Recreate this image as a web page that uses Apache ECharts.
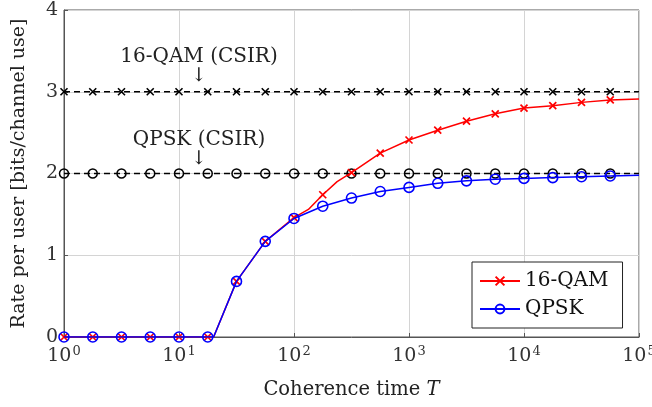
<!DOCTYPE html>
<html>
<head>
<meta charset="utf-8">
<script src="https://cdn.jsdelivr.net/npm/echarts@6/dist/echarts.min.js"></script>
<style>
  html, body { margin: 0; padding: 0; background: #fff; }
  #chart { width: 652px; height: 407px; }
</style>
</head>
<body>
<div id="chart"></div>
<script>
// coherence time T (marker positions are every quarter decade)
var tMarks = [1, 1.778, 3.162, 5.623, 10, 17.78, 31.62, 56.23, 100, 177.8,
              316.2, 562.3, 1000, 1778, 3162, 5623, 10000, 17783, 31623, 56234];
// 16-QAM rate (with extra samples between markers)
var qamT   = [1, 1.778, 3.162, 5.623, 10, 17.78, 20, 31.62, 56.23, 100, 133.4, 177.8, 237.1,
              316.2, 562.3, 1000, 1778, 3162, 5623, 10000, 17783, 31623, 56234, 100000];
var qamRate = [0, 0, 0, 0, 0, 0, 0, 0.68, 1.17, 1.46, 1.56, 1.74, 1.90,
               2.01, 2.25, 2.41, 2.53, 2.64, 2.73, 2.80, 2.83, 2.87, 2.90, 2.91];
// QPSK rate
var qpskT   = [1, 1.778, 3.162, 5.623, 10, 17.78, 20, 31.62, 56.23, 100, 177.8,
               316.2, 562.3, 1000, 1778, 3162, 5623, 10000, 17783, 31623, 56234, 100000];
var qpskRate = [0, 0, 0, 0, 0, 0, 0, 0.68, 1.17, 1.45, 1.60,
                1.70, 1.78, 1.83, 1.88, 1.91, 1.93, 1.94, 1.95, 1.96, 1.97, 1.98];
// CSIR references
var csirT = tMarks.concat([100000]);
var qamCsir = 3;
var qpskCsir = 2;
var yTicks = [0, 1, 2, 3, 4];

var FONT = 'DejaVu Serif';
var crossPath = 'path://M0,0L10,10M10,0L0,10';

// markers only on quarter-decade samples
function isMark(t) {
  var l = Math.log10(t) * 4;
  return Math.abs(l - Math.round(l)) < 0.02 && t < 99999;
}
function pts(xs, ys) {
  return xs.map(function (x, i) {
    var p = { value: [x, ys[i]] };
    if (!isMark(x)) p.symbol = 'none';
    return p;
  });
}
function note(x, y, text, size) {
  return {
    type: 'text', z: 10,
    style: { x: x, y: y, text: text, font: size + 'px "DejaVu Serif"', fill: '#222', align: 'center', verticalAlign: 'middle' }
  };
}

var chart = echarts.init(document.getElementById('chart'));
chart.setOption({
  animation: false,
  backgroundColor: '#fff',
  textStyle: { fontFamily: FONT },
  grid: { left: 64, right: 13, top: 10, bottom: 70, outerBoundsMode: 'none', containLabel: false,
          show: true, borderColor: '#555', borderWidth: 1 },
  legend: {
    orient: 'vertical', left: 472, top: 262,
    padding: [9, 14, 9, 7], itemGap: 8, itemWidth: 40, itemHeight: 11,
    backgroundColor: '#fff', borderColor: '#222', borderWidth: 1, borderRadius: 0,
    textStyle: { fontFamily: FONT, fontSize: 20, color: '#111' },
    data: ['16-QAM', 'QPSK']
  },
  xAxis: {
    type: 'log', logBase: 10, min: 1, max: 100000,
    axisLine: { lineStyle: { color: '#555' } },
    axisTick: { inside: true, length: 4, lineStyle: { color: '#555' } },
    minorTick: { show: false },
    splitLine: { show: true, lineStyle: { color: '#d4d4d4' } },
    axisLabel: {
      margin: 8, color: '#333', hideOverlap: false,
      formatter: function (v) { return '{b|10}{s|' + Math.round(Math.log10(v)) + '}'; },
      rich: {
        b: { fontFamily: FONT, fontSize: 19, color: '#333' },
        s: { fontFamily: FONT, fontSize: 13, color: '#333', verticalAlign: 'top', padding: [0, 0, 10, 1] }
      }
    },
    name: '{n|Coherence time }{i|T}', nameLocation: 'middle', nameGap: 43,
    nameTextStyle: {
      rich: {
        n: { fontFamily: FONT, fontSize: 19.5, color: '#222' },
        i: { fontFamily: FONT, fontSize: 19.5, color: '#222', fontStyle: 'italic' }
      }
    }
  },
  yAxis: {
    type: 'value', min: 0, max: 4, interval: 1,
    axisLine: { show: true, lineStyle: { color: '#555' } },
    axisTick: { show: true, inside: true, length: 4, lineStyle: { color: '#555' } },
    splitLine: { show: true, lineStyle: { color: '#d4d4d4' } },
    axisLabel: {
      margin: 6, fontSize: 19, color: '#333',
      formatter: function (v) { return yTicks.indexOf(v) >= 0 ? String(v) : ''; }
    },
    name: 'Rate per user [bits/channel use]', nameLocation: 'middle', nameGap: 35,
    nameTextStyle: { fontFamily: FONT, fontSize: 19, color: '#222' }
  },
  series: [
    {
      name: '16-QAM (CSIR)', type: 'line', z: 2,
      data: pts(csirT, csirT.map(function () { return qamCsir; })),
      symbol: crossPath, symbolSize: 7,
      lineStyle: { color: '#000', width: 1.4, type: [6, 4] },
      itemStyle: { color: '#000', borderColor: '#000', borderWidth: 1.6 }
    },
    {
      name: 'QPSK (CSIR)', type: 'line', z: 2,
      data: pts(csirT, csirT.map(function () { return qpskCsir; })),
      symbol: 'circle', symbolSize: 9,
      lineStyle: { color: '#000', width: 1.4, type: [6, 4] },
      itemStyle: { color: 'rgba(0,0,0,0)', borderColor: '#000', borderWidth: 1.5 }
    },
    {
      name: '16-QAM', type: 'line', z: 3,
      data: pts(qamT, qamRate),
      symbol: crossPath, symbolSize: 7,
      lineStyle: { color: '#f00', width: 1.5 },
      itemStyle: { color: '#f00', borderColor: '#f00', borderWidth: 1.7 }
    },
    {
      name: 'QPSK', type: 'line', z: 4,
      data: pts(qpskT, qpskRate),
      symbol: 'circle', symbolSize: 10,
      lineStyle: { color: '#00f', width: 1.5 },
      itemStyle: { color: 'rgba(0,0,0,0)', borderColor: '#00f', borderWidth: 1.6 }
    }
  ],
  graphic: [
    note(199, 57, '16-QAM (CSIR)', 20),
    note(199, 76, '↓', 19),
    note(199, 140, 'QPSK (CSIR)', 20),
    note(199, 159, '↓', 19)
  ]
});
</script>
</body>
</html>
